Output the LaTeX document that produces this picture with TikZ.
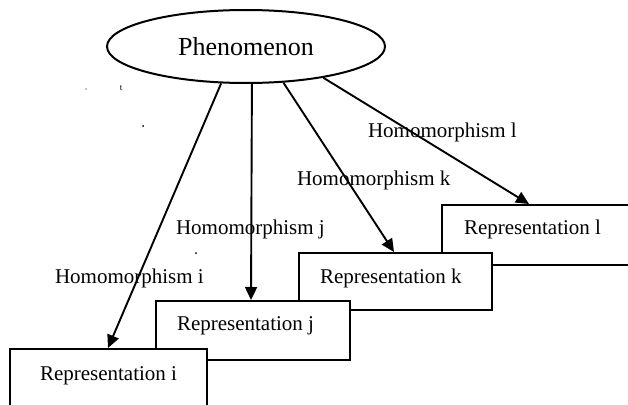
\documentclass[tikz,border=0pt]{standalone}
\usepackage{fontspec}
\setmainfont{Liberation Serif}
\usetikzlibrary{arrows.meta,shapes.geometric,calc}
\begin{document}
\begin{tikzpicture}[x=1pt,y=-1pt,
  line width=2pt,
  repbox/.style={draw, fill=white, rectangle, inner sep=0pt, anchor=north west, line width=2pt},
  reptext/.style={anchor=base west, inner sep=0pt, font=\fontsize{21}{25}\selectfont},
  lbl/.style={anchor=base west, inner sep=0pt, font=\fontsize{21}{25}\selectfont},
  arr/.style={-{Triangle[length=13pt,width=12pt]}, line width=1.9pt},
  speck/.style={fill=black, draw=none}]
\useasboundingbox (0,0) rectangle (628,404);
\clip (0,0) rectangle (628,404);

% phenomenon
\node[draw, ellipse, line width=2pt, minimum width=278pt, minimum height=73pt, inner sep=0pt,
      font=\fontsize{26}{30}\selectfont] (ph) at (246,46.5) {Phenomenon};

% representation boxes (later boxes lie over earlier ones)
\node[repbox, minimum width=195pt, minimum height=60pt] (bl) at (441,204) {};
\node[repbox, minimum width=193pt, minimum height=57pt] (bk) at (298,252) {};
\node[repbox, minimum width=194pt, minimum height=58.5pt] (bj) at (155,300) {};
\node[repbox, minimum width=197pt, minimum height=60pt] (bi) at (9,348) {};

\node[reptext] (tl) at (463,234) {Representation l};
\node[reptext] (tk) at (319,283) {Representation k};
\node[reptext] (tj) at (176,330) {Representation j};
\node[reptext] (ti) at (39,380) {Representation i};

% arrows
\draw[arr] (ph.236.3) -- ($(bi.north west)+(99,0)$);
\draw[arr] (ph.279.4) -- ($(bj.north west)+(96,0)$);
\draw[arr] (ph.316.4) -- ($(bk.north west)+(96,0)$);
\draw[arr] (ph.338.9) -- ($(bl.north west)+(88,0)$);

% arrow labels
\node[lbl] (hl) at (367,137) {Homomorphism l};
\node[lbl] (hk) at (296,185) {Homomorphism k};
\node[lbl] (hj) at (175,234) {Homomorphism j};
\node[lbl] (hi) at (54,283) {Homomorphism i};

% scan specks
\node[anchor=base, inner sep=0pt, font=\fontsize{9}{10}\selectfont] (tt) at (121,90) {t};
\fill[speck] (143,126) circle (1pt);
\fill[speck] (196,253) circle (1pt);
\fill[speck] (86,89) circle (0.7pt);
\end{tikzpicture}
\end{document}
